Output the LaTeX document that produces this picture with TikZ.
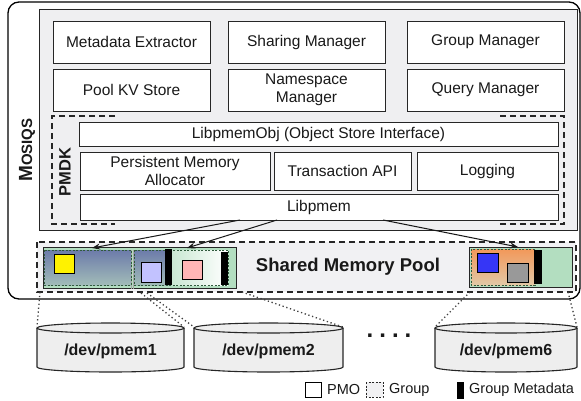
\documentclass[tikz,border=0pt]{standalone}
\usepackage{fontspec}
\setmainfont{Liberation Sans}
\usetikzlibrary{arrows.meta}
\definecolor{panel}{HTML}{EFEFF1}
\definecolor{poolbg}{HTML}{F1F1F3}
\definecolor{grpgreen}{HTML}{B3DEC0}
\definecolor{bluetop}{HTML}{6C7BAA}
\definecolor{bluebot}{HTML}{A2BCB8}
\definecolor{orgtop}{HTML}{F2985A}
\definecolor{orgbot}{HTML}{E2C8A6}
\definecolor{lavender}{HTML}{C2C2FF}
\definecolor{pinkish}{HTML}{FFB6B6}
\definecolor{bluesq}{HTML}{3636F6}
\definecolor{cylfill}{HTML}{EEEEEE}
\definecolor{dashgreen}{HTML}{2F5A3C}
\begin{document}
\begin{tikzpicture}[x=1pt,y=-1pt,
  txt/.style={font=\fontsize{15.5}{18}\selectfont, text=black!90},
  box/.style={txt, draw=black!85, fill=white, line width=1pt, align=center, inner sep=0pt},
  pmdkline/.style={draw=black!85, line width=1.2pt, dash pattern=on 6pt off 4pt},
  link/.style={draw=black!90, line width=1pt, -{Stealth[length=8pt,width=6pt]}},
  dotline/.style={draw=black!75, line width=1.3pt, dash pattern=on 1.3pt off 2.6pt},
  grpbox/.style={draw=dashgreen, line width=0.6pt, dash pattern=on 2pt off 1.5pt},
  pmo/.style={draw=black, line width=0.9pt},
  meta/.style={fill=black, draw=black},
  cyltext/.style={font=\fontsize{16}{18}\selectfont\bfseries, text=black!90},
  legtext/.style={font=\fontsize{14.5}{17}\selectfont, text=black!90, anchor=west, inner sep=0pt}
]
\useasboundingbox (0,0) rectangle (581,400);
% outer and inner frames
\draw[fill=white, line width=1.3pt, rounded corners=11pt] (8,2) rectangle (580,299);
\draw[fill=panel, draw=black!85, line width=1pt] (39,9) rectangle (577,230);
\node[rotate=90, font=\bfseries, text=black!90] (mosiqs) at (27,150)
  {\fontsize{19}{19}\selectfont M\fontsize{15}{19}\selectfont OSIQS};
% managers
\node[box, minimum width=157, minimum height=42] (me) at (131.5,42) {Metadata Extractor};
\node[box, minimum width=157, minimum height=42] (sm) at (306.5,42) {Sharing Manager};
\node[box, minimum width=157, minimum height=42] (gm) at (485.5,42) {Group Manager};
\node[box, minimum width=157, minimum height=42] (kv) at (131.5,90) {Pool KV Store};
\node[box, minimum width=157, minimum height=42] (ns) at (306.5,90) {Namespace\\Manager};
\node[box, minimum width=157, minimum height=42] (qm) at (485.5,90) {Query Manager};
% PMDK
\draw[pmdkline] (115,116) -- (52,116) -- (52,224) -- (115,224);
\draw[pmdkline] (500,116) -- (564,116) -- (564,224) -- (500,224);
\node[rotate=90, font=\fontsize{16.5}{18}\selectfont\bfseries, text=black!90] (pmdk) at (65,172) {PMDK};
\node[box, minimum width=479, minimum height=24] (lo) at (318.5,134) {LibpmemObj (Object Store Interface)};
\node[box, minimum width=190, minimum height=38] (pma) at (175,171) {Persistent Memory\\Allocator};
\node[box, minimum width=137, minimum height=38] (ta) at (342.5,171) {Transaction API};
\node[box, minimum width=141, minimum height=38] (lg) at (487.5,171) {Logging};
\node[box, minimum width=478, minimum height=26] (lp) at (319,207) {Libpmem};
% shared memory pool
\draw[fill=poolbg, draw=black!85, line width=1.2pt, dash pattern=on 6pt off 4pt] (37,242) rectangle (576,292);
\node[font=\fontsize{18.5}{20}\selectfont\bfseries, text=black!90] (pool) at (348,267) {Shared Memory Pool};
% left group area
\draw[fill=grpgreen, draw=black!85, line width=0.9pt] (43,247) rectangle (236,288);
\shade[top color=bluetop, bottom color=bluebot] (44,250) rectangle (131,285);
\shade[top color=bluetop, bottom color=bluebot] (134,250) rectangle (171,285);
\shade[left color=grpgreen!70, right color=white] (172,250) rectangle (228,285);
\draw[black!35, line width=0.5pt] (131.5,250) -- (131.5,289) (133.5,250) -- (133.5,289);
\draw[grpbox] (44,250) rectangle (131,285);
\draw[grpbox] (134,250) rectangle (228,285);
\draw[pmo, fill=yellow] (54,254) rectangle (74,273);
\draw[pmo, fill=lavender] (141,262) rectangle (161,282);
\draw[meta] (165,249) rectangle (171,284);
\draw[pmo, fill=pinkish] (182,260) rectangle (202,279);
\draw[meta] (221,252) rectangle (227,284);
% right group area
\draw[fill=grpgreen, draw=black!85, line width=0.9pt] (469,247) rectangle (572,287);
\shade[top color=orgtop, bottom color=orgbot] (471,249) rectangle (535,285);
\draw[grpbox] (471,249) rectangle (535,285);
\draw[pmo, fill=bluesq] (477,253) rectangle (498,272);
\draw[pmo, fill=black!40] (507,263) rectangle (528,282);
\draw[meta] (534,250) rectangle (541,283);
% arrows
\coordinate (s1) at (240,220); \coordinate (e1) at (92,248);
\coordinate (s2) at (277,220); \coordinate (e2) at (187,248);
\coordinate (s3) at (383,220); \coordinate (e3) at (518,247);
\draw[link] (s1) -- (e1);
\draw[link] (s2) -- (e2);
\draw[link] (s3) -- (e3);
% cylinders
\newcommand\mycyl[4]{% x1, x2, name, label
  \pgfmathsetmacro\cx{(#1+#2)/2}\pgfmathsetmacro\rx{(#2-#1)/2}
  \path[fill=cylfill] (#1,328) -- (#1,367) arc[start angle=180,end angle=360,x radius=\rx pt,y radius=5pt] -- (#2,328) arc[start angle=0,end angle=180,x radius=\rx pt,y radius=5pt] -- cycle;
  \draw[black!85, line width=1.1pt] (#1,328) -- (#1,367) arc[start angle=180,end angle=360,x radius=\rx pt,y radius=5pt] -- (#2,328);
  \draw[black!85, line width=1.1pt] (\cx,328) ellipse[x radius=\rx pt, y radius=5pt];
  \coordinate (#3l) at (#1,327); \coordinate (#3r) at (#2,327);
  \node[cyltext] (#3) at (\cx,351) {#4};
}
\mycyl{37}{184}{c1}{/dev/pmem1}
\mycyl{194}{343}{c2}{/dev/pmem2}
\mycyl{435}{577}{c6}{/dev/pmem6}
\node[font=\fontsize{24}{24}\selectfont\bfseries\addfontfeatures{LetterSpace=25}, text=black!90] (dots) at (389,336) {....};
% dotted mappings
\coordinate (p1) at (40,292); \coordinate (p2) at (141,293); \coordinate (p3) at (147,293);
\coordinate (p4) at (242,292); \coordinate (p5) at (470,292); \coordinate (p6) at (568,292);
\draw[dotline] (p1) -- (c1l);
\draw[dotline] (p2) -- (c1r);
\draw[dotline] (p3) -- (c2l);
\draw[dotline] (p4) -- (c2r);
\draw[dotline] (p5) -- (c6l);
\draw[dotline] (p6) -- (c6r);
% legend
\draw[pmo, fill=white] (305,382) rectangle (321,397);
\node[legtext] (lpmo) at (327,389.5) {PMO};
\draw[fill=poolbg, draw=black!85, line width=0.8pt, dash pattern=on 2pt off 1.5pt] (366,382) rectangle (383,397);
\node[legtext] (lgrp) at (389,389.5) {Group};
\draw[meta] (457,382) rectangle (463,398);
\node[legtext] (lmeta) at (469,389.5) {Group Metadata};
\end{tikzpicture}
\end{document}
